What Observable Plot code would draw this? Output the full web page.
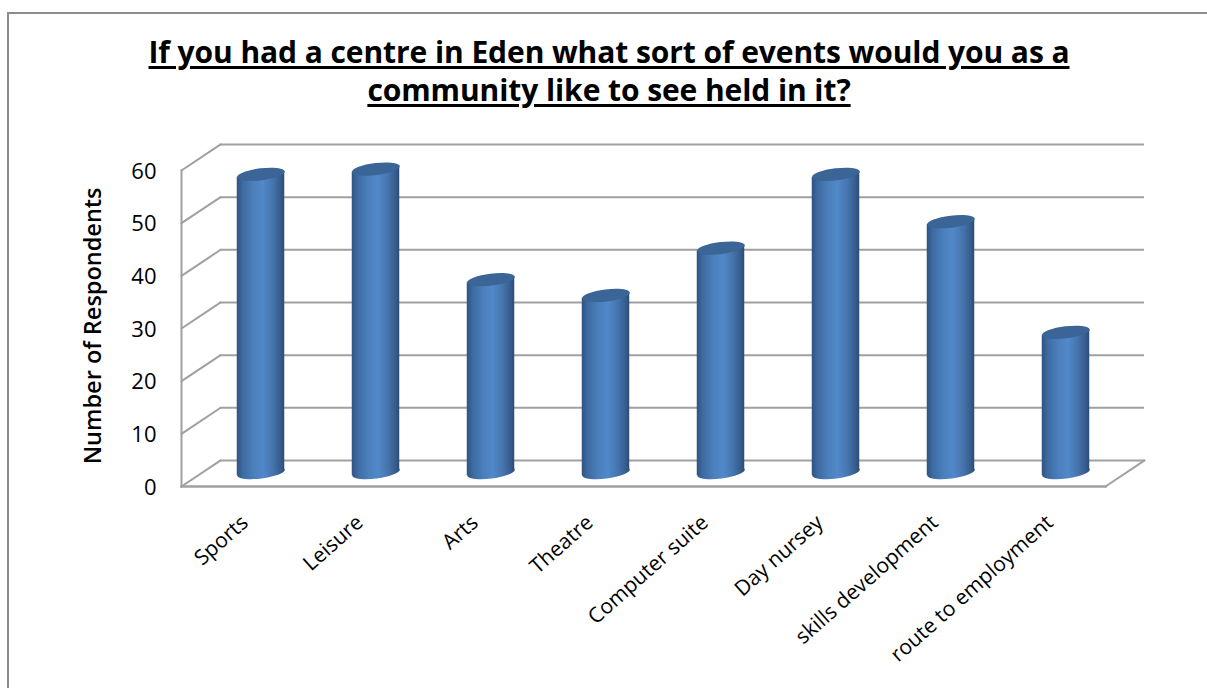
<!DOCTYPE html>
<html>
<head>
<meta charset="utf-8">
<script src="https://cdn.jsdelivr.net/npm/d3@7"></script>
<script src="https://cdn.jsdelivr.net/npm/@observablehq/plot@0.6"></script>
<style>
  html, body { margin: 0; padding: 0; background: #fff; overflow: hidden; width: 1207px; height: 688px; }
  #frame { position: absolute; left: 7px; top: 12px; width: 1300px; height: 800px; border-left: 2px solid #8c8c8c; border-top: 2px solid #8c8c8c; }
  #title { position: absolute; left: 0; top: 33px; width: 1218px; text-align: center; font: bold 30px/38px "Open Sans", sans-serif; letter-spacing: -0.08px; color: #000; }
  #title span { display: block; text-decoration: underline; text-decoration-thickness: 2.5px; text-underline-offset: 3px; }
  #chart { position: absolute; left: 0; top: 130px; }
  #chart svg { display: block; }
</style>
</head>
<body>
<div id="frame"></div>
<div id="title"><span>If you had a centre in Eden what sort of events would you as a</span><span>community like to see held in it?</span></div>
<div id="chart"></div>
<script>
const categories = ["Sports", "Leisure", "Arts", "Theatre", "Computer suite", "Day nursey", "skills development", "route to employment"];
const respondents = [57, 58, 37, 34, 43, 57, 48, 27];
const yTicks = [0, 10, 20, 30, 40, 50, 60];
const yLabel = "Number of Respondents";

const table = categories.map((category, i) => ({category, value: respondents[i]}));

const tiltDeg = -7;
// A tilted ellipse used for the cylinder caps (radius comes from the mark's r).
const capSymbol = {
  draw(ctx, size) {
    const rx = Math.sqrt(size / Math.PI), ry = rx * 0.25, t = tiltDeg * Math.PI / 180, k = 0.5523;
    const c = Math.cos(t), s = Math.sin(t);
    const P = (x, y) => [x * c - y * s, x * s + y * c];
    const B = (a, b, d) => ctx.bezierCurveTo(...P(...a), ...P(...b), ...P(...d));
    ctx.moveTo(...P(rx, 0));
    B([rx, k * ry], [k * rx, ry], [0, ry]);
    B([-k * rx, ry], [-rx, k * ry], [-rx, 0]);
    B([-rx, -k * ry], [-k * rx, -ry], [0, -ry]);
    B([k * rx, -ry], [rx, -k * ry], [rx, 0]);
    ctx.closePath();
  }
};
const lineShape = { draw(ctx, l) { ctx.moveTo(0, 0); ctx.lineTo(0, -l); } };

const defs = () => {
  const g = d3.create("svg:g");
  const lg = g.append("defs").append("linearGradient").attr("id", "cyl").attr("x1", 0).attr("x2", 1).attr("y1", 0).attr("y2", 0);
  [[0, "#2f5381"], [0.12, "#3d6aa0"], [0.35, "#4b80bd"], [0.55, "#5188c8"], [0.75, "#4675ae"], [0.92, "#365d8e"], [1, "#2b4c75"]]
    .forEach(([o, c]) => lg.append("stop").attr("offset", o).attr("stop-color", c));
  return g.node();
};

// Turn each bar rectangle into a body whose ends follow the tilt of the caps.
const slantBars = (index, scales, values, dims, context, next) => {
  const g = next(index, scales, values, dims, context);
  d3.select(g).selectAll("rect").each(function () {
    const r = d3.select(this);
    const x = +r.attr("x"), y = +r.attr("y"), w = +r.attr("width"), h = +r.attr("height");
    const e = (w / 2) * Math.tan(-tiltDeg * Math.PI / 180);
    d3.select(this.parentNode).append("path")
      .attr("d", `M${x},${y + e}L${x + w},${y - e}L${x + w},${y + h - e}L${x},${y + h + e}Z`);
    r.remove();
  });
  return g;
};

const gridColor = "#a0a0a0";
const depth = {dx: 39, dy: -26, length: 47, rotate: 56.3};
const barShift = {dx: 20, dy: -12};

const plot = Plot.plot({
  width: 1207,
  height: 558,
  marginLeft: 181,
  marginRight: 102,
  marginTop: 40,
  marginBottom: 202,
  style: {fontFamily: "'Open Sans', sans-serif", color: "#000", background: "transparent"},
  x: {domain: categories, padding: 0, label: null},
  y: {domain: [0, 60], label: null},
  marks: [
    defs,
    Plot.ruleY(yTicks, {stroke: gridColor, strokeWidth: 2, dx: depth.dx, dy: depth.dy, strokeOpacity: 1}),
    Plot.vector(yTicks, {y: d => d, frameAnchor: "left", length: depth.length, rotate: depth.rotate, anchor: "start", shape: lineShape, stroke: gridColor, strokeWidth: 2}),
    Plot.vector([0], {y: d => d, frameAnchor: "right", length: depth.length, rotate: depth.rotate, anchor: "start", shape: lineShape, stroke: gridColor, strokeWidth: 2}),
    Plot.frame({anchor: "left", stroke: gridColor, strokeWidth: 2, strokeOpacity: 1}),
    Plot.frame({anchor: "bottom", stroke: gridColor, strokeWidth: 2.5, strokeOpacity: 1}),
    Plot.dot(table, {x: "category", y: () => 0, r: 24, symbol: capSymbol, fill: "url(#cyl)", stroke: "none", dx: barShift.dx, dy: barShift.dy - 2}),
    Plot.barY(table, {x: "category", y: "value", insetLeft: 33.75, insetRight: 33.75, insetBottom: 2, fill: "url(#cyl)", ...barShift, render: slantBars}),
    Plot.dot(table, {x: "category", y: "value", r: 24, symbol: capSymbol, fill: "#3a6596", stroke: "none", ...barShift}),
    Plot.axisY(yTicks, {ticks: yTicks, anchor: "left", tickSize: 0, tickPadding: 25, fontSize: 22, label: null, dy: 1}),
    Plot.axisX({anchor: "bottom", tickSize: 0, tickPadding: 33, tickRotate: -41.5, fontSize: 21, label: null, dx: 4, lineWidth: 100}),
    Plot.text([yLabel], {frameAnchor: "left", text: d => d, rotate: -90, dx: -88, fontSize: 23.5, fontWeight: 600, textAnchor: "middle", y: () => 30.5})
  ]
});
document.getElementById("chart").append(plot);
</script>
</body>
</html>
